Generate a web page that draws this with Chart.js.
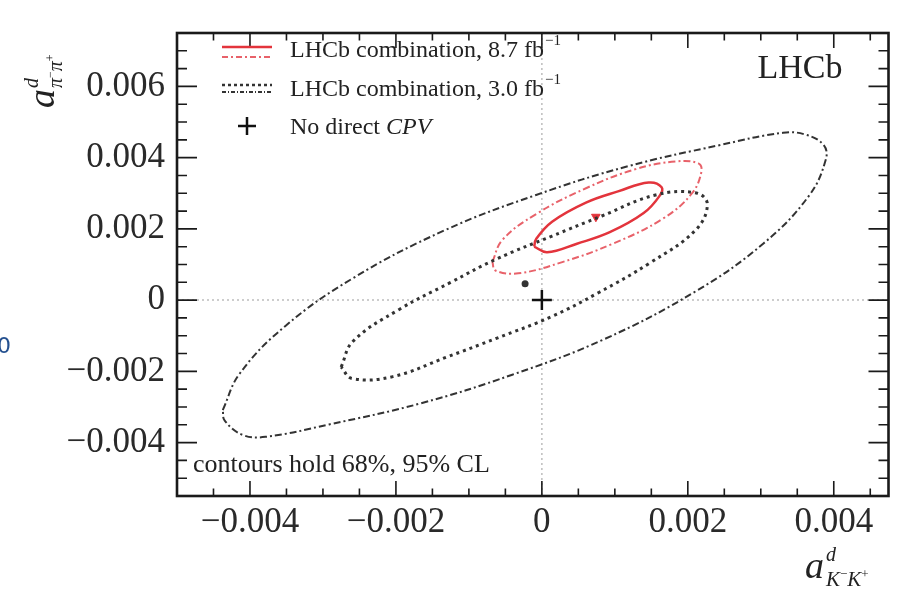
<!DOCTYPE html>
<html>
<head>
<meta charset="utf-8">
<script src="https://cdn.jsdelivr.net/npm/chart.js@4.4.1/dist/chart.umd.min.js"></script>
<style>
  body { margin: 0; background: #fff; }
  canvas { display: block; }
</style>
</head>
<body>
<canvas id="chart" width="901" height="589"></canvas>
<script>
// Tick labels on both axes
const xTicks = [-0.004, -0.002, 0, 0.002, 0.004];
const yTicks = [-0.004, -0.002, 0, 0.002, 0.004, 0.006];

// 3.0 fb-1 combination, 95% CL contour
const run1Cl95X = [-0.004373, -0.004142, -0.003514, -0.002587, -0.001332, -0.000078, 0.001177, 0.002431, 0.003304, 0.003618, 0.003863, 0.003891, 0.003659, 0.003032, 0.002104, 0.000850, -0.000405, -0.001660, -0.002914, -0.003787, -0.004101, -0.004346];
const run1Cl95Y = [-0.003087, -0.002067, -0.000725, 0.000617, 0.001960, 0.002953, 0.003758, 0.004349, 0.004698, 0.004644, 0.004349, 0.003946, 0.002926, 0.001584, 0.000242, -0.001101, -0.002094, -0.002899, -0.003490, -0.003839, -0.003785, -0.003383];

// 3.0 fb-1 combination, 68% CL contour
const run1Cl68X = [-0.002751, -0.002587, -0.001960, -0.001264, -0.000623, 0.000140, 0.000822, 0.001559, 0.002118, 0.002268, 0.002104, 0.001477, 0.000781, 0.000140, -0.000623, -0.001305, -0.002041, -0.002601];
const run1Cl68Y = [-0.001879, -0.001154, -0.000268, 0.000483, 0.001154, 0.001799, 0.002362, 0.002953, 0.003007, 0.002685, 0.001960, 0.001040, 0.000215, -0.000456, -0.001074, -0.001600, -0.002148, -0.002201];

// 8.7 fb-1 combination, 68% CL contour
const fullCl68X = [-0.000105, -0.000078, 0.000140, 0.000604, 0.001054, 0.001463, 0.001641, 0.001613, 0.001395, 0.000931, 0.000481, 0.000072];
const fullCl68Y = [0.001503, 0.001718, 0.002201, 0.002738, 0.003060, 0.003302, 0.003168, 0.002926, 0.002443, 0.001906, 0.001584, 0.001342];

// 8.7 fb-1 combination, 95% CL contour
const fullCl95X = [-0.000678, -0.000541, -0.000078, 0.000604, 0.001286, 0.001831, 0.002145, 0.002186, 0.002050, 0.001654, 0.000972, 0.000290, -0.000323, -0.000637];
const fullCl95Y = [0.001074, 0.001691, 0.002416, 0.003141, 0.003678, 0.003893, 0.003839, 0.003597, 0.002980, 0.002282, 0.001584, 0.001074, 0.000752, 0.000832];

// central values
const bestFitFull = [0.00074, 0.00234];
const bestFitRun1 = [-0.00023, 0.00046];
const noDirectCpv = [0, 0];

const SERIF = '"Liberation Serif", "Times New Roman", serif';
const RED = '#e3343c';
const PINK = '#e8626a';
const DARK = '#333333';

function loop(xs, ys) {
    const pts = xs.map((x, i) => ({ x: x, y: ys[i] }));
    pts.push(pts[0]);
    return pts;
}

function fmt(v) {
    if (Math.abs(v) < 1e-12) return '0';
    const s = Math.abs(v).toFixed(3);
    return v < 0 ? '\u2212' + s : s;
}

// draws a run of text pieces one after another
function runs(ctx, x, y, parts) {
    let cx = x;
    parts.forEach(p => {
        ctx.font = p.font;
        ctx.fillText(p.t, cx + (p.dx || 0), y + (p.dy || 0));
        cx += ctx.measureText(p.t).width + (p.dx || 0) + (p.gap || 0);
    });
}

const framePlugin = {
    id: 'frame',
    beforeDatasetsDraw(chart) {
        const { ctx, chartArea: a, scales } = chart;
        const x0 = scales.x.getPixelForValue(0);
        const y0 = scales.y.getPixelForValue(0);
        ctx.save();
        ctx.strokeStyle = '#bdbdbd';
        ctx.lineWidth = 1.5;
        ctx.setLineDash([2, 3]);
        ctx.beginPath();
        ctx.moveTo(x0, a.top); ctx.lineTo(x0, a.bottom);
        ctx.moveTo(a.left, y0); ctx.lineTo(a.right, y0);
        ctx.stroke();
        ctx.restore();
    },
    afterDatasetsDraw(chart) {
        const { ctx, chartArea: a, scales } = chart;
        ctx.save();
        ctx.strokeStyle = '#1a1a1a';
        ctx.lineWidth = 1.6;
        ctx.beginPath();
        // x ticks every 0.0005, major every 0.002
        for (let i = -10; i <= 9; i++) {
            const px = scales.x.getPixelForValue(i * 0.0005);
            if (px < a.left + 1 || px > a.right - 1) continue;
            const len = i % 4 === 0 ? 15 : 7.5;
            ctx.moveTo(px, a.bottom); ctx.lineTo(px, a.bottom - len);
            ctx.moveTo(px, a.top); ctx.lineTo(px, a.top + len);
        }
        for (let i = -11; i <= 15; i++) {
            const py = scales.y.getPixelForValue(i * 0.0005);
            if (py < a.top + 1 || py > a.bottom - 1) continue;
            const len = i % 4 === 0 ? 20 : 10;
            ctx.moveTo(a.left, py); ctx.lineTo(a.left + len, py);
            ctx.moveTo(a.right, py); ctx.lineTo(a.right - len, py);
        }
        ctx.stroke();
        ctx.lineWidth = 2.6;
        ctx.strokeRect(a.left, a.top, a.right - a.left, a.bottom - a.top);
        ctx.restore();
    },
    afterDraw(chart) {
        const ctx = chart.ctx;
        ctx.save();
        ctx.fillStyle = '#222';
        ctx.textBaseline = 'alphabetic';

        // legend samples
        ctx.lineWidth = 2.5;
        ctx.strokeStyle = RED;
        ctx.beginPath(); ctx.moveTo(222, 47); ctx.lineTo(272, 47); ctx.stroke();
        ctx.lineWidth = 2;
        ctx.strokeStyle = PINK;
        ctx.setLineDash([6, 3, 2, 3]);
        ctx.beginPath(); ctx.moveTo(222, 57); ctx.lineTo(272, 57); ctx.stroke();
        ctx.strokeStyle = DARK;
        ctx.lineWidth = 2.5;
        ctx.setLineDash([3, 3]);
        ctx.beginPath(); ctx.moveTo(222, 85); ctx.lineTo(272, 85); ctx.stroke();
        ctx.lineWidth = 2;
        ctx.setLineDash([4, 2, 1, 2]);
        ctx.beginPath(); ctx.moveTo(222, 92); ctx.lineTo(272, 92); ctx.stroke();
        ctx.setLineDash([]);
        ctx.lineWidth = 2.5;
        ctx.strokeStyle = '#111';
        ctx.beginPath();
        ctx.moveTo(238, 126); ctx.lineTo(256, 126);
        ctx.moveTo(247, 117); ctx.lineTo(247, 135);
        ctx.stroke();

        // legend texts
        const f24 = '24px ' + SERIF;
        const f15 = '15px ' + SERIF;
        runs(ctx, 290, 57, [{ t: 'LHCb combination, 8.7 fb', font: f24, gap: 1 }, { t: '\u22121', font: f15, dy: -12 }]);
        runs(ctx, 290, 96, [{ t: 'LHCb combination, 3.0 fb', font: f24, gap: 1 }, { t: '\u22121', font: f15, dy: -12 }]);
        runs(ctx, 290, 134, [{ t: 'No direct ', font: f24 }, { t: 'CPV', font: 'italic 24px ' + SERIF }]);

        // LHCb tag and CL note
        ctx.font = '34px ' + SERIF;
        ctx.textAlign = 'center';
        ctx.fillText('LHCb', 800, 78);
        ctx.textAlign = 'left';
        ctx.font = '26px ' + SERIF;
        ctx.fillText('contours hold 68%, 95% CL', 193, 472);

        // x axis title
        runs(ctx, 805, 578, [{ t: 'a', font: 'italic 38px ' + SERIF }]);
        runs(ctx, 826, 561, [{ t: 'd', font: 'italic 20px ' + SERIF }]);
        runs(ctx, 826, 586, [
            { t: 'K', font: 'italic 21px ' + SERIF },
            { t: '\u2212', font: '13px ' + SERIF, dy: -8 },
            { t: 'K', font: 'italic 21px ' + SERIF },
            { t: '+', font: '13px ' + SERIF, dy: -8 }
        ]);

        // y axis title (rotated)
        ctx.save();
        ctx.translate(54, 108);
        ctx.rotate(-Math.PI / 2);
        runs(ctx, 0, 0, [{ t: 'a', font: 'italic 38px ' + SERIF }]);
        runs(ctx, 20, -16, [{ t: 'd', font: 'italic 20px ' + SERIF }]);
        runs(ctx, 20, 8, [
            { t: '\u03c0', font: 'italic 20px ' + SERIF },
            { t: '\u2212', font: '12px ' + SERIF, dy: -8 },
            { t: '\u03c0', font: 'italic 20px ' + SERIF },
            { t: '+', font: '12px ' + SERIF, dy: -8 }
        ]);
        ctx.restore();

        // stray label at the left edge of the picture
        ctx.fillStyle = '#24508f';
        ctx.font = '22px "DejaVu Sans", sans-serif';
        ctx.fillText('0', -3, 353);
        ctx.restore();
    }
};

const lineSet = (label, xs, ys, color, width, dash) => ({
    label: label,
    data: loop(xs, ys),
    showLine: true,
    borderColor: color,
    borderWidth: width,
    borderDash: dash,
    pointRadius: 0,
    tension: 0.4,
    fill: false
});

const ctx = document.getElementById('chart').getContext('2d');
const chart = new Chart(ctx, {
    type: 'scatter',
    data: {
        datasets: [
            lineSet('3.0 fb-1, 95%', run1Cl95X, run1Cl95Y, DARK, 2, [7, 3, 2, 3]),
            lineSet('3.0 fb-1, 68%', run1Cl68X, run1Cl68Y, DARK, 3, [3, 4]),
            lineSet('8.7 fb-1, 95%', fullCl95X, fullCl95Y, PINK, 2, [7, 3, 2, 3]),
            lineSet('8.7 fb-1, 68%', fullCl68X, fullCl68Y, RED, 2.5, []),
            {
                label: 'No direct CPV',
                data: [{ x: noDirectCpv[0], y: noDirectCpv[1] }],
                pointStyle: 'cross',
                pointRadius: 10,
                borderWidth: 2.5,
                borderColor: '#111'
            },
            {
                label: '3.0 fb-1 central value',
                data: [{ x: bestFitRun1[0], y: bestFitRun1[1] }],
                pointStyle: 'circle',
                pointRadius: 3.5,
                backgroundColor: DARK,
                borderWidth: 0
            },
            {
                label: '8.7 fb-1 central value',
                data: [{ x: bestFitFull[0], y: bestFitFull[1] }],
                pointStyle: 'triangle',
                rotation: 180,
                pointRadius: 5,
                backgroundColor: RED,
                borderColor: RED,
                borderWidth: 1
            }
        ]
    },
    options: {
        responsive: false,
        animation: false,
        devicePixelRatio: 1,
        layout: { padding: { top: 10, right: 11, left: 0, bottom: 0 } },
        plugins: {
            legend: { display: false },
            tooltip: { enabled: false }
        },
        scales: {
            x: {
                type: 'linear',
                min: -0.005,
                max: 0.00475,
                grid: { display: false, drawTicks: false },
                border: { display: false },
                afterBuildTicks: s => { s.ticks = xTicks.map(v => ({ value: v })); },
                afterFit: s => { s.height = 93; },
                ticks: {
                    color: '#2a2a2a',
                    font: { family: SERIF, size: 35 },
                    padding: 6,
                    maxRotation: 0,
                    autoSkip: false,
                    callback: v => fmt(v)
                }
            },
            y: {
                type: 'linear',
                min: -0.0055,
                max: 0.0075,
                grid: { display: false, drawTicks: false },
                border: { display: false },
                afterBuildTicks: s => { s.ticks = yTicks.map(v => ({ value: v })); },
                afterFit: s => { s.width = 177; },
                ticks: {
                    color: '#2a2a2a',
                    font: { family: SERIF, size: 35 },
                    padding: 12,
                    autoSkip: false,
                    callback: v => fmt(v)
                }
            }
        }
    },
    plugins: [framePlugin]
});
</script>
</body>
</html>
